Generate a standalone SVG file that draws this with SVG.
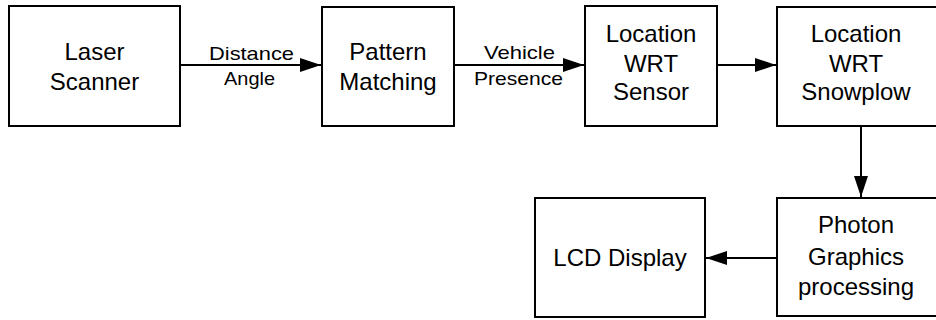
<svg xmlns="http://www.w3.org/2000/svg" width="936" height="320" viewBox="0 0 936 320">
<style>
.box{fill:#fff;stroke:#000;stroke-width:2}
.t{font-family:"Liberation Sans",Arial,sans-serif;font-size:24px;fill:#000;text-anchor:middle}
.l{font-family:"Liberation Sans",Arial,sans-serif;font-size:18.5px;fill:#000}
.c{stroke:#000;stroke-width:2;fill:none}
</style>
<defs>
<marker id="ah" markerUnits="userSpaceOnUse" markerWidth="22" markerHeight="16" refX="21" refY="7" orient="auto">
<path d="M0,0 L21,7 L0,14 Z" fill="#000"/>
</marker>
</defs>
<g id="laser"><rect class="box" x="9" y="6" width="171" height="120"/><text class="t" x="94.5" y="60">Laser</text><text class="t" x="94.5" y="90">Scanner</text></g>
<g id="pattern"><rect class="box" x="322" y="7" width="132" height="119"/><text class="t" x="388" y="60">Pattern</text><text class="t" x="388" y="90">Matching</text></g>
<g id="sensor"><rect class="box" x="585" y="6" width="132" height="120"/><text class="t" x="651" y="42">Location</text><text class="t" x="651" y="72">WRT</text><text class="t" x="651" y="100">Sensor</text></g>
<g id="snowplow"><rect class="box" x="777" y="7" width="160" height="119"/><text class="t" x="856" y="42">Location</text><text class="t" x="856" y="72">WRT</text><text class="t" x="856" y="100">Snowplow</text></g>
<g id="photon"><rect class="box" x="777" y="198" width="160" height="118"/><text class="t" x="856" y="233">Photon</text><text class="t" x="856" y="265">Graphics</text><text class="t" x="856" y="295">processing</text></g>
<g id="lcd"><rect class="box" x="535" y="198" width="170" height="119"/><text class="t" x="620" y="266">LCD Display</text></g>
<g id="connectors">
<line class="c" x1="180" y1="65" x2="321" y2="65" marker-end="url(#ah)"/>
<line class="c" x1="454" y1="65" x2="584" y2="65" marker-end="url(#ah)"/>
<line class="c" x1="717" y1="65" x2="776" y2="65" marker-end="url(#ah)"/>
<line class="c" x1="861" y1="126" x2="861" y2="197" marker-end="url(#ah)"/>
<line class="c" x1="777" y1="258" x2="706" y2="258" marker-end="url(#ah)"/>
<text class="l" x="209" y="60" textLength="85" lengthAdjust="spacingAndGlyphs">Distance</text>
<text class="l" x="224" y="85" textLength="51" lengthAdjust="spacingAndGlyphs">Angle</text>
<text class="l" x="484" y="59" textLength="71" lengthAdjust="spacingAndGlyphs">Vehicle</text>
<text class="l" x="474" y="85" textLength="89" lengthAdjust="spacingAndGlyphs">Presence</text>
</g>
</svg>
